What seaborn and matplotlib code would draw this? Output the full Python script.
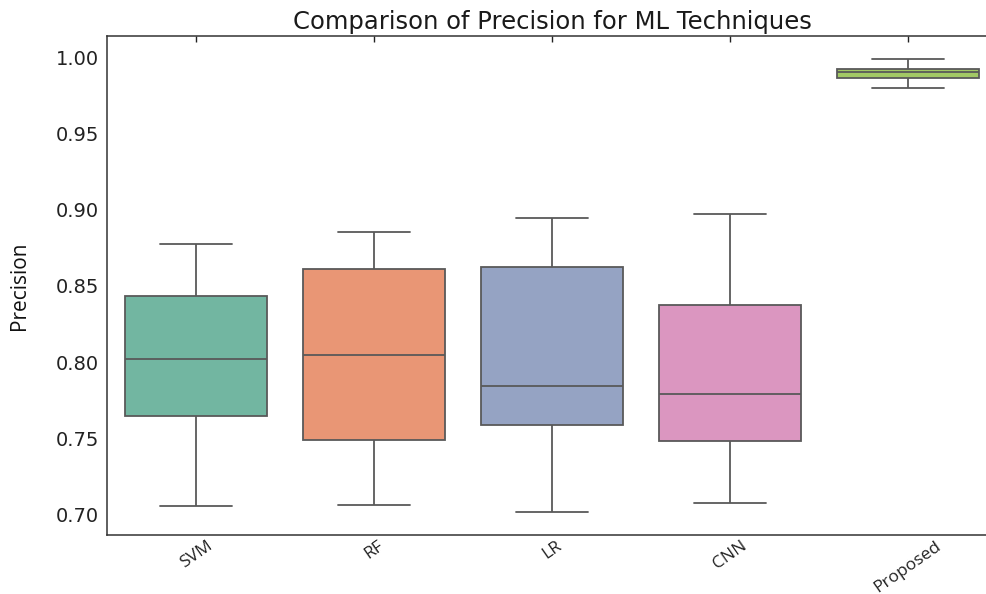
import matplotlib
matplotlib.use("Agg")
import matplotlib.pyplot as plt
import seaborn as sns
import pandas as pd

# Five-number summaries: [low whisker, Q1, median, Q3, high whisker]
categories = ["SVM", "RF", "LR", "CNN", "Proposed"]
svm = [0.7053, 0.7649, 0.8022, 0.8435, 0.8775]
rf = [0.7059, 0.7491, 0.8048, 0.8611, 0.8854]
lr = [0.7014, 0.7590, 0.7845, 0.8624, 0.8945]
cnn = [0.7072, 0.7485, 0.7793, 0.8376, 0.8972]
proposed = [0.9801, 0.9864, 0.9904, 0.9921, 0.9991]

series = [svm, rf, lr, cnn, proposed]
rows = []
for cat, vals in zip(categories, series):
    for v in vals:
        rows.append({"Technique": cat, "Precision": v})
df = pd.DataFrame(rows)

sns.set_style("white")
fig = plt.figure(figsize=(9.87, 5.94), dpi=100)
ax = fig.add_axes([107 / 987, 1 - 535 / 594, (997 - 107) / 987, (535 - 36) / 594])

sns.boxplot(data=df, x="Technique", y="Precision", hue="Technique",
            order=categories, hue_order=categories, palette="Set2",
            legend=False, width=0.8, linewidth=1.3, ax=ax)

ax.set_title("Comparison of Precision for ML Techniques", fontsize=17.5,
             family="DejaVu Sans", color="#1a1a1a", pad=5)
ax.set_xlabel("")
ax.set_ylabel("Precision", fontsize=15, family="Open Sans", color="#111111", labelpad=18)
yt = [0.70, 0.75, 0.80, 0.85, 0.90, 0.95, 1.00]
ax.set_yticks(yt)
ax.set_yticklabels([f"{t:.2f}" for t in yt],
                   fontsize=14, family="DejaVu Sans", color="#1a1a1a")
ax.set_xticks(range(len(categories)))
ax.set_xticklabels(categories, rotation=35, ha="center", fontsize=12.5,
                   family="Open Sans", color="#1a1a1a")
ax.tick_params(direction="in", length=4, width=1, top=True, right=False,
               colors="#222222", pad=6)
ax.tick_params(axis="x", pad=2)
for s in ["left", "bottom", "top"]:
    ax.spines[s].set_visible(True)
    ax.spines[s].set_color("#333333")
    ax.spines[s].set_linewidth(1.1)
ax.spines["right"].set_visible(False)

fig.savefig("out.png", dpi=100)
